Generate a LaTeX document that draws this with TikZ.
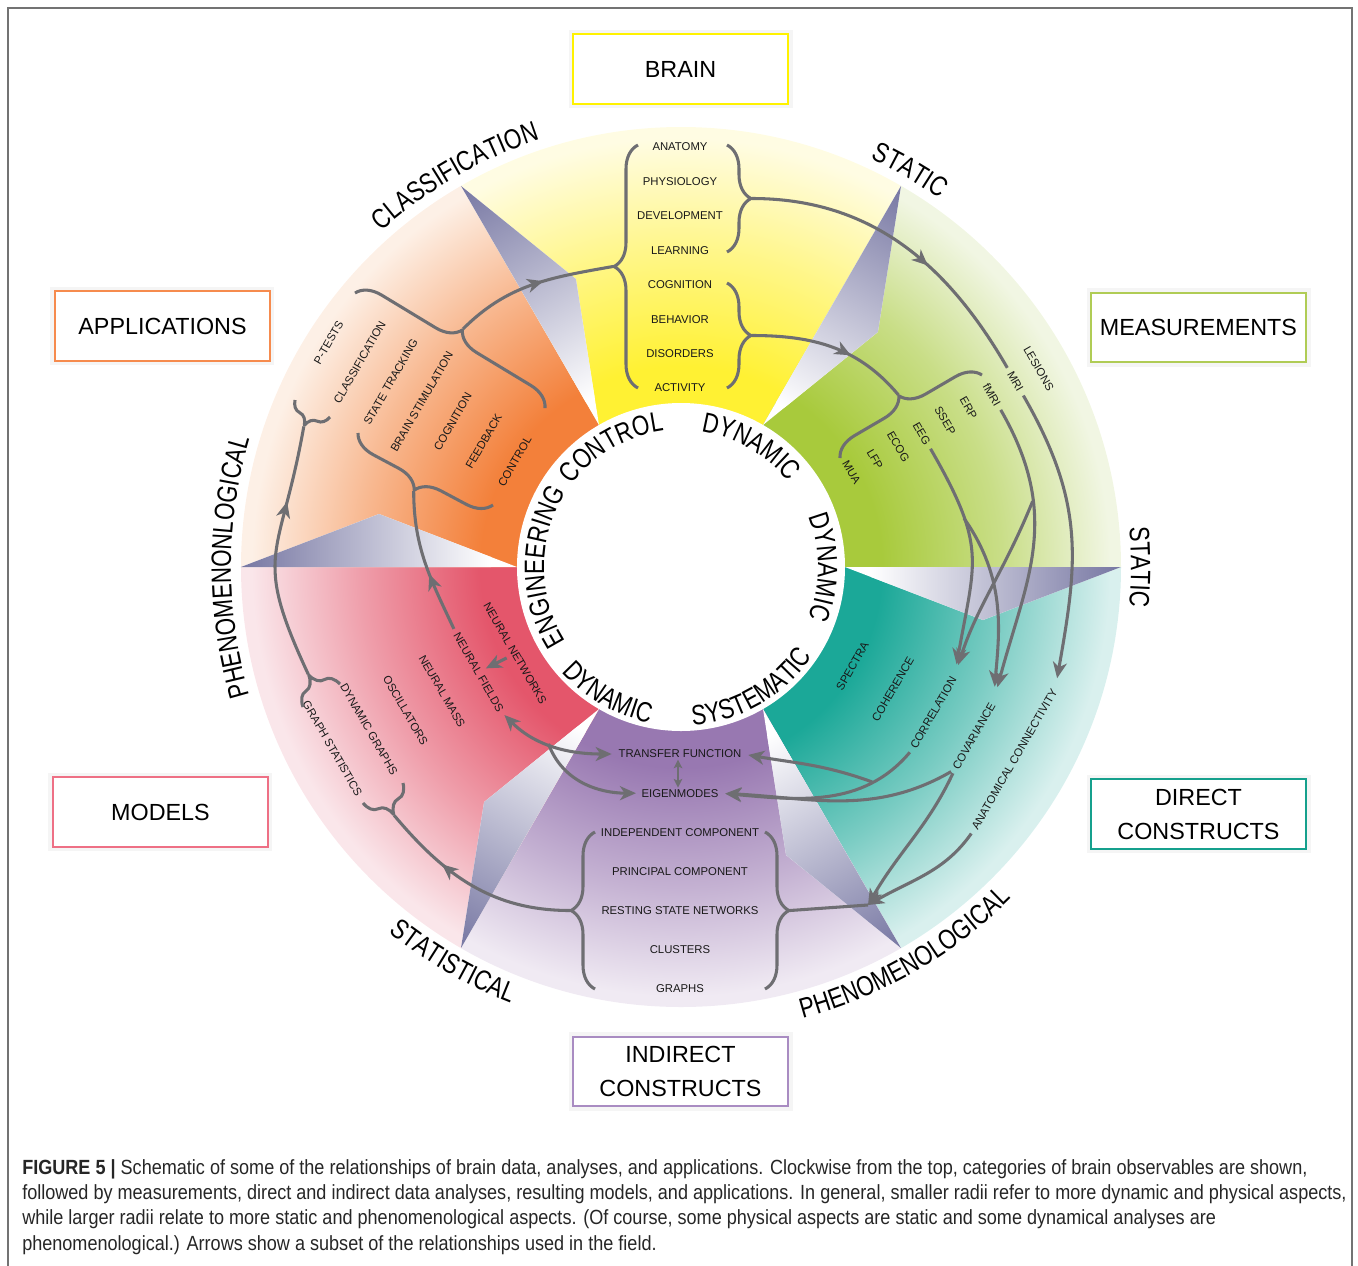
\documentclass[tikz,border=0pt]{standalone}
\usepackage{fontspec}
\setmainfont{Liberation Sans}
\setsansfont{Liberation Sans}
\newfontfamily\ringfont[FakeStretch=0.8]{Liberation Sans}
\newfontfamily\capfont[FakeStretch=0.88]{Liberation Sans}
\usepackage{tikz}
\usetikzlibrary{arrows.meta,calc,decorations.pathreplacing,decorations.text,decorations.markings}
\tikzset{%
  tipA/.tip={Stealth[length=12pt,width=10.5pt,inset=3.5pt]},
  tipB/.tip={Stealth[length=6.5pt,width=6.5pt,inset=1.5pt]}
}
% sector colours (dark / pale)
\definecolor{yelD}{HTML}{FFF133}\definecolor{yelP}{HTML}{FFFCE3}
\definecolor{grnD}{HTML}{A8CA3C}\definecolor{grnP}{HTML}{F1F6E3}
\definecolor{tealD}{HTML}{1BA898}\definecolor{tealP}{HTML}{D9F0EE}
\definecolor{purD}{HTML}{9878B1}\definecolor{purP}{HTML}{F0EAF3}
\definecolor{redD}{HTML}{E4566B}\definecolor{redP}{HTML}{FAE6EA}
\definecolor{orgD}{HTML}{F3803A}\definecolor{orgP}{HTML}{FDF0E6}
\colorlet{yelM}{yelD!50!yelP}\colorlet{grnM}{grnD!55!grnP}
\colorlet{tealM}{tealD!50!tealP}\colorlet{purM}{purD!50!purP}
\colorlet{redM}{redD!50!redP}\colorlet{orgM}{orgD!50!orgP}
\definecolor{wedge}{HTML}{7676A2}
\definecolor{arrowgray}{HTML}{6E6E72}
% box borders
\definecolor{brainB}{HTML}{FFF200}
\definecolor{applB}{HTML}{F68B4E}
\definecolor{measB}{HTML}{B0CC55}
\definecolor{modB}{HTML}{EE7085}
\definecolor{dirB}{HTML}{15A08D}
\definecolor{indB}{HTML}{A98CC2}

\newcommand{\ringstyle}{\ringfont\fontsize{21pt}{21pt}\selectfont}
\newcommand{\lblstyle}{\fontsize{8.5pt}{10pt}\selectfont}
\newcommand{\catstyle}{\fontsize{17.5pt}{25.5pt}\selectfont}
\newcommand{\capstyle}{\capfont\fontsize{15.4pt}{19pt}\selectfont}
\newcommand{\sectorshade}[4]{%
  \pgfdeclareradialshading{#1}{\pgfpoint{0bp}{0bp}}{color(0bp)=(#2); color(11.4bp)=(#2); color(18.2bp)=(#3); color(24.4bp)=(#4); color(50bp)=(#4)}}
\sectorshade{shYel}{yelD}{yelM}{yelP}
\sectorshade{shGrn}{grnD}{grnM}{grnP}
\sectorshade{shTeal}{tealD}{tealM}{tealP}
\sectorshade{shPur}{purD}{purM}{purP}
\sectorshade{shRed}{redD}{redM}{redP}
\sectorshade{shOrg}{orgD}{orgM}{orgP}

\begin{document}
\begin{tikzpicture}[x=0.75pt,y=0.75pt,
  conn/.style={color=arrowgray, line width=2.3pt},
  midarrow/.style={postaction={decorate,decoration={markings,mark=at position #1 with {\arrow{tipA}}}}},
  brc/.style={draw=arrowgray, line width=2.3pt, line join=round, decorate, decoration={brace,amplitude=#1}},
  brc/.default=18pt,
  lbl/.style={font=\lblstyle, inner sep=1pt, text=black!90},
  catbox/.style={draw=#1, line width=1.6pt, fill=white, minimum width=161pt, minimum height=52pt,
    align=center, font=\catstyle, preaction={draw=black!4, line width=7pt}},
  ringtext/.style={decorate, decoration={text along path, text align=center, text={|\ringstyle|#1}}}
]
\useasboundingbox (-681,-698) rectangle (677,567);

% sectors
\foreach \a/\sh in {60/shYel,0/shGrn,-60/shTeal,-120/shPur,180/shRed,120/shOrg}{
  \begin{scope}
    \clip (0,0) -- (\a:470) arc[start angle=\a, delta angle=60, radius=470] -- cycle;
    \shade[shading=\sh] (0,0) circle (440);
  \end{scope}
}
% wedges at the borders
\foreach \a in {0,60,...,300}{
  \begin{scope}[transform canvas={rotate=\a}]
    \clip (440,0) -- (302,-53) -- (164,0) -- cycle;
    \fill[white] (160,-60) rectangle (445,2);
    \shade[left color=white, right color=wedge] (190,-60) rectangle (441,2);
  \end{scope}
}
\fill[white] (0,0) circle (164);

% ring words
\path[ringtext=CLASSIFICATION] (150:450) arc[start angle=150, delta angle=-60, radius=450];
\path[ringtext=STATIC] (90:450) arc[start angle=90, delta angle=-60, radius=450];
\path[ringtext=STATIC] (30:450) arc[start angle=30, delta angle=-60, radius=450];
\path[ringtext=PHENOMENOLOGICAL] (-90:468) arc[start angle=-90, delta angle=60, radius=468];
\path[ringtext=STATISTICAL] (-150:468) arc[start angle=-150, delta angle=60, radius=468];
\path[ringtext=PHENOMENONLOGICAL] (210:450) arc[start angle=210, delta angle=-60, radius=450];
\path[ringtext=CONTROL] (165:137) arc[start angle=165, delta angle=-90, radius=137];
\path[ringtext=DYNAMIC] (105:137) arc[start angle=105, delta angle=-90, radius=137];
\path[ringtext=DYNAMIC] (45:137) arc[start angle=45, delta angle=-90, radius=137];
\path[ringtext=SYSTEMATIC] (-105:159) arc[start angle=-105, delta angle=90, radius=159];
\path[ringtext=DYNAMIC] (-165:159) arc[start angle=-165, delta angle=90, radius=159];
\path[ringtext=ENGINEERING] (225:137) arc[start angle=225, delta angle=-90, radius=137];

% labels
\foreach \t/\n [count=\i from 0] in {ANATOMY/anat,PHYSIOLOGY/phys,DEVELOPMENT/devel,LEARNING/learn,
    COGNITION/cogn,BEHAVIOR/behav,DISORDERS/disord,ACTIVITY/activ}
  \node[lbl] (\n) at (-1,{420-34.43*\i}) {\t};
\foreach \t/\n [count=\i from 0] in {MUA/mua,LFP/lfp,ECOG/ecog,EEG/eeg,SSEP/ssep,ERP/erp,fMRI/fmri,MRI/mri,LESIONS/lesions}
  \node[lbl,rotate=-60] (\n) at (29:{195+26.75*\i}) {\t};
\foreach \t/\n [count=\i from 0] in {SPECTRA/spec,COHERENCE/coher,CORRELATION/corr,COVARIANCE/cov,ANATOMICAL CONNECTIVITY/anacon}
  \node[lbl,rotate=60] (\n) at (-30:{198+46.75*\i}) {\t};
\foreach \t/\n [count=\i from 0] in {TRANSFER FUNCTION/tf,EIGENMODES/eig,INDEPENDENT COMPONENT/ica,
    PRINCIPAL COMPONENT/pca,RESTING STATE NETWORKS/rsn,CLUSTERS/clus,GRAPHS/graphs}
  \node[lbl] (\n) at (-1,{-187-39.17*\i}) {\t};
\foreach \t/\n [count=\i from 0] in {NEURAL NETWORKS/nn,NEURAL FIELDS/nf,NEURAL MASS/nm,OSCILLATORS/osc,
    DYNAMIC GRAPHS/dyng,GRAPH STATISTICS/gstat}
  \node[lbl,rotate=-60] (\n) at (207.5:{187+41.2*\i}) {\t};
\foreach \t/\n [count=\i from 0] in {CONTROL/ctrl,FEEDBACK/fb,COGNITION/appcog,BRAIN STIMULATION/stim,
    STATE TRACKING/track,CLASSIFICATION/classif,P-TESTS/ptest}
  \node[lbl,rotate=60] (\n) at (147.5:{197+36.8*\i}) {\t};

% braces
\draw[brc] (-43,179) -- (-43,422);
\draw[brc] (46,422) -- (46,315);
\draw[brc] (46,284) -- (46,179);
\draw[brc] (-86,-422) -- (-86,-265);
\draw[brc] (84,-265) -- (84,-422);
\draw[brc] (159,109) -- (301,192);
\draw[brc] (-326,274) -- (-136,159);
\draw[brc] (-188,62) -- (-323,134);
\draw[brc=14pt] (-351,150) -- (-386,167);
\draw[brc] (-378,-140) -- (-341,-117);
\draw[brc] (-278,-216) -- (-318,-236);
\coordinate (bL) at (-68,300.5);
\coordinate (bR1) at (71,368.5);
\coordinate (bR2) at (71,231.5);
\coordinate (iL) at (-111,-343.5);
\coordinate (iR) at (109,-343.5);
\coordinate (iRtip) at (187,-338);
\coordinate (mcusp) at (217.4,172.1);
\coordinate (aU) at (-218,238);
\coordinate (aL) at (-267.3,76);
\coordinate (pC) at (-377.2,140.5);
\coordinate (mU) at (-372.7,-107.3);
\coordinate (mL) at (-286.8,-248.4);

% arrows
\draw[conn,midarrow=0.57] (aU) to[out=45,in=190] (bL);
\draw[conn,midarrow=0.59,shorten >=3pt] (bR1) to[out=0,in=120] (mri.west);
\draw[conn,midarrow=0.62] (bR2) to[out=0,in=130] (mcusp);
\draw[conn,-tipA,shorten <=3pt,shorten >=8pt] (mri.east) to[out=-60,in=80,looseness=1.1] (anacon.east);
\draw[conn,-tipA,shorten <=3pt,shorten >=12pt] (fmri.east) to[out=-60,in=75,looseness=1.1] coordinate[pos=0.32] (fk) (cov.east);
\draw[conn,-tipA,shorten >=9pt] (fk) to[out=-112,in=72] (corr.east);
\draw[conn,-tipA,shorten <=3pt,shorten >=9pt] (eeg.east) to[out=-60,in=80,looseness=1.3] coordinate[pos=0.3] (ek) (corr.east);
\draw[conn,-tipA,shorten >=12pt] (ek) to[out=-55,in=85] (cov.east);
\draw[conn,-tipA,shorten <=3pt,shorten >=4pt] (corr.west) to[out=-130,in=-5] coordinate[pos=0.25] (ck) (eig.east);
\draw[conn,-tipA,shorten >=4pt] (ck) to[out=160,in=-10] (tf.east);
\draw[conn,-tipA,shorten <=3pt,shorten >=4pt] (cov.west) to[out=-150,in=-3] (eig.east);
\draw[conn,-tipA,shorten <=3pt] (cov.west) to[out=-115,in=60] (iRtip);
\draw[conn,-tipA,shorten <=3pt] (anacon.west) to[out=-125,in=30] (iRtip);
\draw[conn] (iR) -- (iRtip);
\draw[conn,midarrow=0.67] (iL) to[out=180,in=-50] (mL);
\draw[conn,midarrow=0.7] (mU) to[out=115,in=-100,looseness=1.4] (pC);
\draw[conn,midarrow=0.43,shorten <=3pt] (nf.west) to[out=115,in=-90] (aL);
\draw[conn,-tipA,shorten <=3pt,shorten >=2pt] (nn.south) -- (nf.north);
\draw[conn,tipA-tipA,shorten <=3pt,shorten >=4pt] (nf.east) to[out=-45,in=180] coordinate[pos=0.45] (nk) (tf.west);
\draw[conn,-tipA,shorten >=3pt] (nk) to[out=-70,in=180] (eig.west);
\draw[conn,line width=1.7pt,tipB-tipB] ([xshift=-1.5pt]tf.south) -- ([xshift=-1.5pt]eig.north);

% category boxes
\node[catbox=brainB] (brain) at (-0.5,498) {BRAIN};
\node[catbox=applB] (appl) at (-518.5,241) {APPLICATIONS};
\node[catbox=measB] (meas) at (517.5,239.5) {MEASUREMENTS};
\node[catbox=modB] (models) at (-520.5,-245) {MODELS};
\node[catbox=dirB] (direct) at (517.5,-247) {DIRECT\\CONSTRUCTS};
\node[catbox=indB] (indirect) at (-0.5,-504.5) {INDIRECT\\CONSTRUCTS};

% caption and frame
\node[anchor=north west, inner sep=0pt, align=left, font=\capstyle, text=black!85] (caption) at (-659,-592)
  {{\bfseries FIGURE 5 |} Schematic of some of the relationships of brain data, analyses, and applications. Clockwise from the top, categories of brain observables are shown,\\
   followed by measurements, direct and indirect data analyses, resulting models, and applications. In general, smaller radii refer to more dynamic and physical aspects,\\
   while larger radii relate to more static and phenomenological aspects. (Of course, some physical aspects are static and some dynamical analyses are\\
   phenomenological.) Arrows show a subset of the relationships used in the field.};
\draw[line width=1.5pt, draw=black!55] (-673,-720) rectangle (671,559);
\end{tikzpicture}
\end{document}
